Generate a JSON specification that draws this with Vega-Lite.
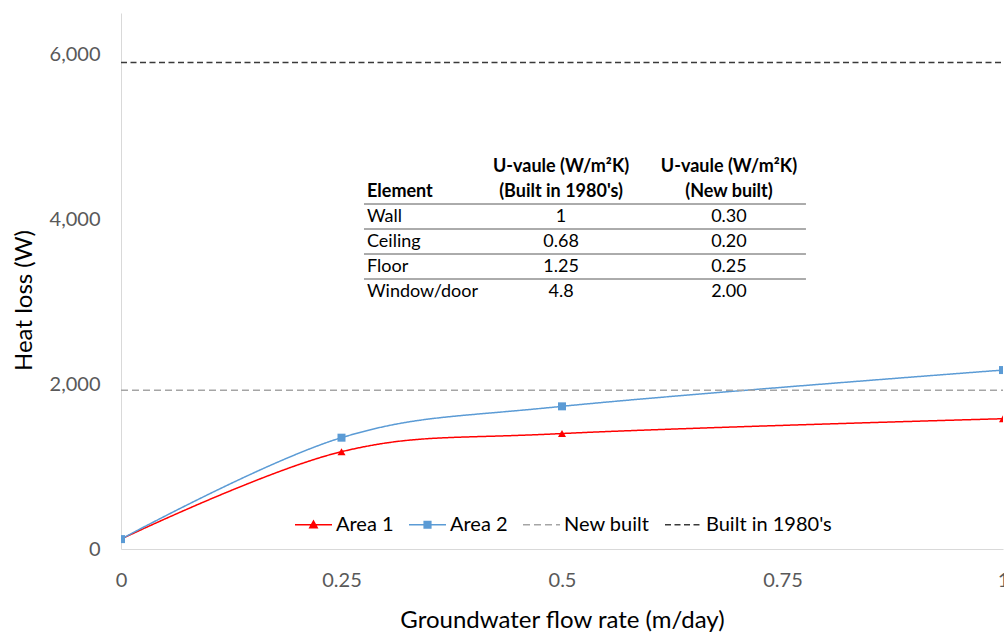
{
  "$schema": "https://vega.github.io/schema/vega-lite/v6.json",
  "width": 882,
  "height": 536,
  "autosize": {"type": "none"},
  "padding": {"left": 121, "top": 13, "right": 1, "bottom": 85},
  "background": "white",
  "config": {
    "font": "Lato",
    "view": {"stroke": null},
    "axis": {
      "grid": false,
      "ticks": false,
      "domainColor": "#D9D9D9",
      "domainWidth": 1,
      "labelColor": "#595959",
      "labelFont": "Lato",
      "labelFontSize": 20,
      "titleFont": "Lato",
      "titleFontSize": 24,
      "titleFontWeight": "normal",
      "titleColor": "#000000"
    }
  },
  "datasets": {
    "series": [
      {"series": "Area 1", "flow": 0, "loss": 120},
      {"series": "Area 1", "flow": 0.25, "loss": 1180},
      {"series": "Area 1", "flow": 0.5, "loss": 1400},
      {"series": "Area 1", "flow": 1, "loss": 1580},
      {"series": "Area 2", "flow": 0, "loss": 120},
      {"series": "Area 2", "flow": 0.25, "loss": 1350},
      {"series": "Area 2", "flow": 0.5, "loss": 1730},
      {"series": "Area 2", "flow": 1, "loss": 2170},
      {"series": "New built", "flow": 0, "loss": 1925},
      {"series": "New built", "flow": 1, "loss": 1925},
      {"series": "Built in 1980's", "flow": 0, "loss": 5900},
      {"series": "Built in 1980's", "flow": 1, "loss": 5900}
    ],
    "table": [
      {"row": 0, "Element": "", "b": "U-vaule (W/m²K)", "n": "U-vaule (W/m²K)"},
      {"row": 1, "Element": "Element", "b": "(Built in 1980's)", "n": "(New built)"},
      {"row": 2, "Element": "Wall", "b": "1", "n": "0.30"},
      {"row": 3, "Element": "Ceiling", "b": "0.68", "n": "0.20"},
      {"row": 4, "Element": "Floor", "b": "1.25", "n": "0.25"},
      {"row": 5, "Element": "Window/door", "b": "4.8", "n": "2.00"}
    ]
  },
  "layer": [
    {
      "data": {"name": "series"},
      "encoding": {
        "x": {
          "field": "flow", "type": "quantitative",
          "scale": {"domain": [0, 1], "nice": false},
          "axis": {"values": [0, 0.25, 0.5, 0.75, 1], "format": "~g", "labelFlush": false, "labelPadding": 21, "title": "Groundwater flow rate (m/day)", "titleBaseline": "alphabetic", "titleY": 78}
        },
        "y": {
          "field": "loss", "type": "quantitative",
          "scale": {"domain": [0, 6500], "nice": false},
          "axis": {"values": [0, 2000, 4000, 6000], "format": ",.0f", "labelPadding": 21, "title": "Heat loss (W)", "titleBaseline": "middle", "titleY": 287, "titleX": -97}
        }
      },
      "layer": [
        {
          "mark": {"type": "line", "interpolate": "cardinal", "strokeWidth": 1.5, "clip": true},
          "encoding": {
            "color": {
              "field": "series", "type": "nominal",
              "scale": {"domain": ["Area 1", "Area 2", "New built", "Built in 1980's"], "range": ["#FF0000", "#5B9BD5", "#A5A5A5", "#3A3A3A"]},
              "legend": {
                "title": null,
                "orient": "none",
                "legendX": 173,
                "legendY": 492,
                "direction": "horizontal",
                "symbolSize": 1369,
                "symbolStrokeWidth": 1.5,
                "labelFont": "Lato",
                "labelFontSize": 20,
                "labelColor": "#000000",
                "labelOffset": 3,
                "columnPadding": 12,
                "encoding": {
                  "symbols": {
                    "shape": {"value": {"expr": "datum.value === 'Area 1' ? 'M-1,0H1M-0.2,0.16L0,-0.2L0.2,0.16Z' : datum.value === 'Area 2' ? 'M-1,0H1M-0.18,-0.18H0.18V0.18H-0.18Z' : 'M-1,0H1'"}},
                    "fill": {"value": {"expr": "scale('color', datum.value)"}},
                    "fillOpacity": {"value": 1},
                    "strokeWidth": {"value": 1.5}
                  }
                }
              }
            },
            "strokeDash": {
              "field": "series", "type": "nominal",
              "scale": {"domain": ["Area 1", "Area 2", "New built", "Built in 1980's"], "range": [[1, 0], [1, 0], [7, 4], [6, 3.5]]},
              "legend": null
            }
          }
        },
        {
          "transform": [{"filter": "datum.series === 'Area 1' || datum.series === 'Area 2'"}],
          "mark": {"type": "point", "filled": true, "opacity": 1, "size": 64, "clip": true},
          "encoding": {
            "color": {"field": "series", "type": "nominal", "legend": null},
            "shape": {
              "field": "series", "type": "nominal",
              "scale": {"domain": ["Area 1", "Area 2"], "range": ["triangle-up", "square"]},
              "legend": null
            }
          }
        }
      ]
    },
    {
      "data": {"name": "table"},
      "encoding": {
        "y": {
          "field": "row", "type": "quantitative",
          "scale": {"domain": [-6.16, 15.28], "reverse": true, "nice": false, "zero": false},
          "axis": null
        }
      },
      "layer": [
        {
          "transform": [{"filter": "datum.row >= 1 && datum.row <= 4"}],
          "mark": {"type": "rule", "color": "#595959", "strokeWidth": 1, "yOffset": 12},
          "encoding": {"x": {"datum": 0.2755}, "x2": {"datum": 0.7766}}
        },
        {
          "transform": [{"filter": "datum.row >= 2"}],
          "mark": {"type": "text", "align": "left", "baseline": "middle", "font": "Lato", "fontSize": 18, "color": "#000000"},
          "encoding": {"x": {"datum": 0.2789}, "text": {"field": "Element"}}
        },
        {
          "transform": [{"filter": "datum.row == 1"}],
          "mark": {"type": "text", "align": "left", "baseline": "middle", "font": "Lato", "fontSize": 18, "fontWeight": "bold", "color": "#000000"},
          "encoding": {"x": {"datum": 0.2789}, "text": {"field": "Element"}}
        },
        {
          "transform": [{"filter": "datum.row >= 2"}],
          "mark": {"type": "text", "align": "center", "baseline": "middle", "font": "Lato", "fontSize": 18, "color": "#000000"},
          "encoding": {"x": {"datum": 0.4989}, "text": {"field": "b"}}
        },
        {
          "transform": [{"filter": "datum.row >= 2"}],
          "mark": {"type": "text", "align": "center", "baseline": "middle", "font": "Lato", "fontSize": 18, "color": "#000000"},
          "encoding": {"x": {"datum": 0.6893}, "text": {"field": "n"}}
        },
        {
          "transform": [{"filter": "datum.row <= 1"}],
          "mark": {"type": "text", "align": "center", "baseline": "middle", "font": "Lato", "fontSize": 18, "fontWeight": "bold", "color": "#000000"},
          "encoding": {"x": {"datum": 0.4989}, "text": {"field": "b"}}
        },
        {
          "transform": [{"filter": "datum.row <= 1"}],
          "mark": {"type": "text", "align": "center", "baseline": "middle", "font": "Lato", "fontSize": 18, "fontWeight": "bold", "color": "#000000"},
          "encoding": {"x": {"datum": 0.6893}, "text": {"field": "n"}}
        }
      ]
    }
  ],
  "resolve": {"scale": {"y": "independent"}}
}
